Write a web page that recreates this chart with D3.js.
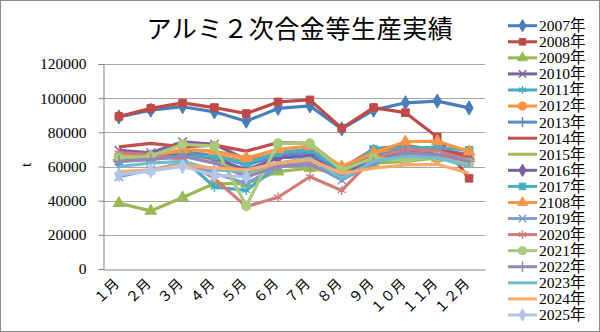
<!DOCTYPE html>
<html><head><meta charset="utf-8">
<script src="https://cdn.jsdelivr.net/npm/d3@7"></script>
<style>
html,body{margin:0;padding:0;background:#fff;}
svg{display:block;}
svg text{font-family:"Liberation Serif","Times New Roman","DejaVu Serif","Noto Sans CJK JP",serif !important;fill:#000;}
svg text.cjk{font-family:"Noto Sans CJK JP",sans-serif !important;}
</style></head><body>
<svg id="c" width="600" height="332"></svg>
<script>
const months = ["１月","２月","３月","４月","５月","６月","７月","８月","９月","１０月","１１月","１２月"];
const yTicks = [0,20000,40000,60000,80000,100000,120000];
const names = ["2007年","2008年","2009年","2010年","2011年","2012年","2013年","2014年","2015年","2016年","2017年","2108年","2019年","2020年","2021年","2022年","2023年","2024年","2025年"];
const s2007 = [89000,93000,95000,92000,86500,94000,95500,82000,93000,97300,98300,94300];
const s2008 = [89300,94000,97200,94500,91000,97800,99000,82400,94500,91500,77300,53100];
const s2009 = [38500,34000,41800,50000,50000,57000,59000,55500,62000,63000,65000,66000];
const s2010 = [69500,68000,74500,73000,64000,67000,70000,58000,66000,70000,69000,65000];
const s2011 = [64000,65000,65000,48000,46000,60000,64000,57000,70500,72000,70000,66000];
const s2012 = [66000,65000,68000,67000,63000,68000,70000,59000,67000,72000,64500,65000];
const s2013 = [64000,66000,69000,66000,61000,66000,68000,57000,66000,70000,70000,67000];
const s2014 = [71500,73500,71500,72500,69000,74000,73500,59000,70000,72000,70000,66000];
const s2015 = [64000,65000,68000,64000,56000,62000,64000,56000,63000,64000,65000,62000];
const s2016 = [63000,65000,67000,65000,58000,65000,66000,55000,64000,68000,69000,64000];
const s2017 = [63000,65000,66000,66000,62000,68000,70000,58000,70000,71000,71000,69500];
const s2018 = [65000,66000,70000,69000,65000,70000,72000,60000,68000,74500,74800,68700];
const s2019 = [54000,58000,62000,56000,50000,60000,62000,52000,62000,68000,66000,62000];
const s2020 = [68000,67000,64000,53000,36500,42000,54000,46000,65000,70000,69000,64000];
const s2021 = [65200,66000,73000,72000,37000,73500,73500,58000,65000,63500,65700,62000];
const s2022 = [63000,64000,66000,62000,54000,60000,61000,54000,62000,68000,67000,63000];
const s2023 = [60000,62000,63000,58000,57000,62000,65000,53000,63000,66000,65000,60000];
const s2024 = [57000,58000,61000,59000,58000,62000,64000,56000,59000,61000,61300,56000];
const s2025 = [55200,57400,60000,55000,54000,null,null,null,null,null,null,null];
const seriesValues = [s2007,s2008,s2009,s2010,s2011,s2012,s2013,s2014,s2015,s2016,s2017,s2018,s2019,s2020,s2021,s2022,s2023,s2024,s2025];

const colors = ["#4A7EBB","#BE4B48","#98B954","#7D60A0","#46AAC5","#F69240","#5B8BC8","#C0504D","#9BBB59","#7B5EA0","#4BACC6","#F79646","#7C9FD0","#D07C79","#A9C97B","#9984B6","#6FBDD1","#F9AB6B","#B4C6E7"];
const markerCycle = ["diamond","square","triangle","times","asterisk","circle","plus","none","none"];

(function(){
const svg = d3.select("#c");
svg.append("rect").attr("x",0.5).attr("y",0.5).attr("width",599).attr("height",331)
  .attr("fill","#fff").attr("stroke","#8c8c8c").attr("stroke-width",1);

const pL=103, pR=485, pT=64, pB=269;
const x = d3.scaleBand().domain(months).range([pL,pR]);
const y = d3.scaleLinear().domain([0,120000]).range([pB,pT]);

svg.append("text").attr("class","cjk").attr("x",300).attr("y",38).attr("text-anchor","middle")
  .style("font-size","25px").style("letter-spacing","0.6px")
  .text("アルミ２次合金等生産実績");

svg.append("g").selectAll("line").data(yTicks.filter(d=>d>0)).join("line")
  .attr("x1",pL).attr("x2",pR).attr("y1",d=>Math.round(y(d))+0.5).attr("y2",d=>Math.round(y(d))+0.5)
  .attr("stroke","#a6a6a6").attr("stroke-width",1);

const yAxis = d3.axisLeft(y).tickValues(yTicks).tickSize(5).tickPadding(12).tickFormat(d3.format("d"));
const ga = svg.append("g").attr("transform",`translate(${pL+0.5},0)`).call(yAxis);
ga.attr("font-family",null).attr("font-size",null);
ga.select(".domain").attr("stroke","#868686");
ga.selectAll(".tick line").attr("stroke","#868686");
ga.selectAll("text").style("font-size","15.5px");

const xAxis = d3.axisBottom(x).tickSize(0).tickPadding(0);
const gx = svg.append("g").attr("transform",`translate(0,${pB+0.5})`).call(xAxis);
gx.attr("font-family",null).attr("font-size",null);
gx.select(".domain").attr("stroke","#868686");
gx.selectAll("text")
  .style("font-size","14px")
  .attr("text-anchor","end").attr("dy","0")
  .attr("transform","translate(1,15) rotate(-45)");

svg.append("text").attr("transform","translate(31,165) rotate(-90)").attr("text-anchor","middle")
  .style("font-size","15px").text("t");

const cx = m => x(m) + x.bandwidth()/2;
const line = d3.line().defined(d=>d.v!=null).x(d=>cx(d.m)).y(d=>y(d.v));
const symType = {diamond:d3.symbolDiamond,square:d3.symbolSquare,triangle:d3.symbolTriangle,times:d3.symbolTimes,asterisk:d3.symbolAsterisk,circle:d3.symbolCircle,plus:d3.symbolPlus};
const symSize = {diamond:58,square:58,triangle:58,times:50,asterisk:60,circle:68,plus:50};
const isStroke = t => t==="times"||t==="asterisk"||t==="plus";

function drawMarker(g, type, color, px, py, scale){
  if(type==="none") return;
  const p = d3.symbol().type(symType[type]).size(symSize[type]*scale)();
  const el = g.append("path").attr("d",p).attr("transform",`translate(${px},${py})`);
  if(isStroke(type)) el.attr("fill","none").attr("stroke",color).attr("stroke-width",1.4);
  else el.attr("fill",color).attr("stroke",color).attr("stroke-width",1);
}

const plot = svg.append("g");
seriesValues.forEach((vals,i)=>{
  const data = vals.map((v,j)=>({m:months[j],v}));
  const g = plot.append("g");
  g.append("path").datum(data).attr("d",line).attr("fill","none")
    .attr("stroke",colors[i]).attr("stroke-width",3.2).attr("stroke-linejoin","round");
  const type = markerCycle[i%markerCycle.length];
  data.filter(d=>d.v!=null).forEach(d=>drawMarker(g,type,colors[i],cx(d.m),y(d.v),1));
});

const lg = svg.append("g");
names.forEach((n,i)=>{
  const ly = 25.7 + 16.07*i;
  lg.append("line").attr("x1",508).attr("x2",537).attr("y1",ly).attr("y2",ly)
    .attr("stroke",colors[i]).attr("stroke-width",3);
  drawMarker(lg, markerCycle[i%markerCycle.length], colors[i], 522.5, ly, 0.75);
  lg.append("text").attr("x",539).attr("y",ly).attr("dy","0.35em")
    .style("font-size","15.5px").text(n);
});
})();
</script>
</body></html>
